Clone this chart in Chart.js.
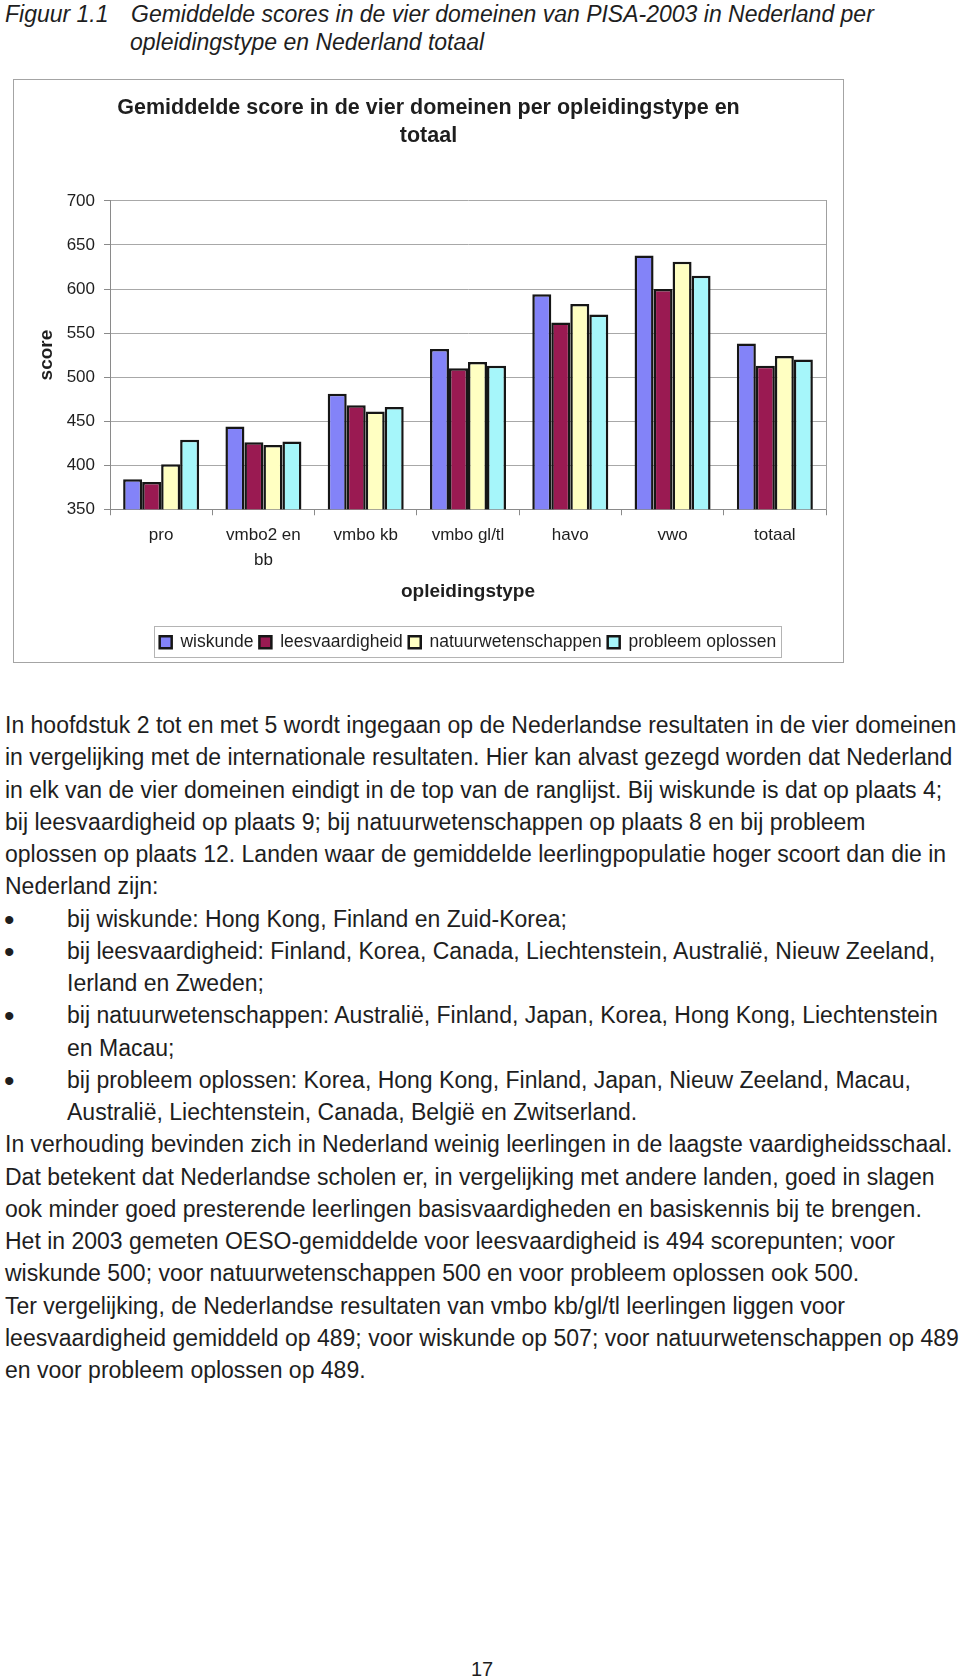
<!DOCTYPE html>
<html>
<head>
<meta charset="utf-8">
<script src="https://cdn.jsdelivr.net/npm/chart.js@4.4.1/dist/chart.umd.min.js"></script>
<style>
html,body{margin:0;padding:0;background:#fff;}
body{width:960px;height:1677px;position:relative;overflow:hidden;font-family:"Liberation Sans",Arial,sans-serif;color:#1e1e1e;}
.cap{position:absolute;font-style:italic;font-size:23px;line-height:30px;white-space:nowrap;}
.ln{position:absolute;font-size:23px;line-height:32.25px;white-space:nowrap;}
.bul{position:absolute;font-size:30px;line-height:32.25px;}
#box{position:absolute;left:13px;top:79px;width:831px;height:584px;box-sizing:border-box;border:1px solid #a4a4a4;}
#c{position:absolute;left:13px;top:79px;}
#pg{position:absolute;left:471px;top:1657px;font-size:20px;line-height:24px;}
</style>
</head>
<body>
<div class="cap" style="left:5px;top:-1px;">Figuur 1.1</div>
<div class="cap" style="left:131px;top:-1px;">Gemiddelde scores in de vier domeinen van PISA-2003 in Nederland per</div>
<div class="cap" style="left:130px;top:27px;">opleidingstype en Nederland totaal</div>
<div id="box"></div>
<canvas id="c" width="831" height="584"></canvas>
<div id="text"></div>
<div id="pg">17</div>
<script>
// ---- chart data ----
const categories = ['pro', ['vmbo2 en', 'bb'], 'vmbo kb', 'vmbo gl/tl', 'havo', 'vwo', 'totaal'];
const wiskunde = [384, 444, 481, 532, 594, 638, 538];
const leesvaardigheid = [381, 426, 468, 510, 562, 600, 513];
const natuurwetenschappen = [401, 423, 461, 517, 583, 631, 524];
const probleemOplossen = [429, 427, 466, 513, 571, 615, 520];
const yMin = 350, yMax = 700, yStep = 50;

// ---- body text ----
const lines = [
 [0,'In hoofdstuk 2 tot en met 5 wordt ingegaan op de Nederlandse resultaten in de vier domeinen'],
 [0,'in vergelijking met de internationale resultaten. Hier kan alvast gezegd worden dat Nederland'],
 [0,'in elk van de vier domeinen eindigt in de top van de ranglijst. Bij wiskunde is dat op plaats 4;'],
 [0,'bij leesvaardigheid op plaats 9; bij natuurwetenschappen op plaats 8 en bij probleem'],
 [0,'oplossen op plaats 12. Landen waar de gemiddelde leerlingpopulatie hoger scoort dan die in'],
 [0,'Nederland zijn:'],
 [1,'bij wiskunde: Hong Kong, Finland en Zuid-Korea;'],
 [1,'bij leesvaardigheid: Finland, Korea, Canada, Liechtenstein, Australië, Nieuw Zeeland,'],
 [2,'Ierland en Zweden;'],
 [1,'bij natuurwetenschappen: Australië, Finland, Japan, Korea, Hong Kong, Liechtenstein'],
 [2,'en Macau;'],
 [1,'bij probleem oplossen: Korea, Hong Kong, Finland, Japan, Nieuw Zeeland, Macau,'],
 [2,'Australië, Liechtenstein, Canada, België en Zwitserland.'],
 [0,'In verhouding bevinden zich in Nederland weinig leerlingen in de laagste vaardigheidsschaal.'],
 [0,'Dat betekent dat Nederlandse scholen er, in vergelijking met andere landen, goed in slagen'],
 [0,'ook minder goed presterende leerlingen basisvaardigheden en basiskennis bij te brengen.'],
 [0,'Het in 2003 gemeten OESO-gemiddelde voor leesvaardigheid is 494 scorepunten; voor'],
 [0,'wiskunde 500; voor natuurwetenschappen 500 en voor probleem oplossen ook 500.'],
 [0,'Ter vergelijking, de Nederlandse resultaten van vmbo kb/gl/tl leerlingen liggen voor'],
 [0,'leesvaardigheid gemiddeld op 489; voor wiskunde op 507; voor natuurwetenschappen op 489'],
 [0,'en voor probleem oplossen op 489.']
];
const textHost = document.getElementById('text');
lines.forEach((l, i) => {
  const top = 709 + i * 32.25;
  if (l[0] === 1) {
    const b = document.createElement('div');
    b.className = 'bul'; b.style.left = '4px'; b.style.top = (top + 1) + 'px'; b.textContent = '•';
    textHost.appendChild(b);
  }
  const d = document.createElement('div');
  d.className = 'ln';
  d.style.left = (l[0] ? 67 : 5) + 'px';
  d.style.top = top + 'px';
  d.textContent = l[1];
  textHost.appendChild(d);
});

// ---- chart ----
Chart.defaults.font.family = '"Liberation Sans", Arial, sans-serif';
Chart.defaults.color = '#1e1e1e';

const legendBox = {
  id: 'legendBox',
  afterDraw(chart) {
    const lg = chart.legend;
    if (!lg || !lg.legendHitBoxes || !lg.legendHitBoxes.length) return;
    const hb = lg.legendHitBoxes;
    const l = Math.min(...hb.map(h => h.left)) - 6;
    const r = Math.max(...hb.map(h => h.left + h.width)) + 4;
    const cy = hb[0].top + hb[0].height / 2;
    const ctx = chart.ctx;
    ctx.save();
    ctx.strokeStyle = '#b4b4b4';
    ctx.lineWidth = 1;
    ctx.strokeRect(Math.round(l) + 0.5, Math.round(cy - 16) + 0.5, Math.round(r - l), 31);
    ctx.restore();
  }
};

const mk = (label, data, color) => ({
  label, data, backgroundColor: color, borderColor: '#161616', borderWidth: 2.5,
  categoryPercentage: 0.743, barPercentage: 1.0
});

new Chart(document.getElementById('c'), {
  type: 'bar',
  data: {
    labels: categories,
    datasets: [
      mk('wiskunde', wiskunde, '#8383F8'),
      mk('leesvaardigheid', leesvaardigheid, '#9A1A52'),
      mk('natuurwetenschappen', natuurwetenschappen, '#FFFFC2'),
      mk('probleem oplossen', probleemOplossen, '#A6F6FA')
    ]
  },
  options: {
    responsive: false,
    devicePixelRatio: 1,
    animation: false,
    layout: { padding: { top: 0, left: 0, right: 0, bottom: 2 } },
    plugins: {
      tooltip: { enabled: false },
      title: {
        display: true,
        text: ['Gemiddelde score in de vier domeinen per opleidingstype en', 'totaal'],
        font: { size: 21.5, weight: 'bold', lineHeight: 1.3 },
        color: '#1e1e1e',
        padding: { top: 15, bottom: 51 }
      },
      legend: {
        display: true,
        position: 'bottom',
        fullSize: false,
        labels: { boxWidth: 12, boxHeight: 12, padding: 6, font: { size: 17.5 }, color: '#1e1e1e' }
      }
    },
    scales: {
      x: {
        grid: { offset: true, drawOnChartArea: false, drawTicks: true, tickLength: 6, color: '#8a8a8a' },
        border: { display: true, color: '#8a8a8a' },
        ticks: { font: { size: 17, lineHeight: 1.4706 }, padding: 7.5, color: '#1e1e1e', maxRotation: 0, autoSkip: false },
        title: { display: true, text: 'opleidingstype', font: { size: 19, weight: 'bold' }, color: '#1e1e1e', padding: { top: 0, bottom: 23.85 } },
        afterFit(s) { s.height = 118.25; }
      },
      y: {
        min: yMin, max: yMax,
        ticks: { stepSize: yStep, font: { size: 17 }, padding: 9, color: '#1e1e1e' },
        grid: { color: '#a8a8a8', lineWidth: 1, tickLength: 6, tickColor: '#8a8a8a' },
        border: { display: true, color: '#8a8a8a' },
        title: { display: true, text: 'score', font: { size: 19, weight: 'bold' }, color: '#1e1e1e', padding: { top: 22.6, bottom: 0 } },
        afterFit(s) { s.width = 97; }
      },
      y2: {
        position: 'right',
        display: true,
        grid: { display: false, drawTicks: false },
        ticks: { display: false },
        border: { display: true, color: '#a0a0a0' },
        afterFit(s) { s.width = 18; }
      }
    }
  },
  plugins: [legendBox]
});
</script>
</body>
</html>
